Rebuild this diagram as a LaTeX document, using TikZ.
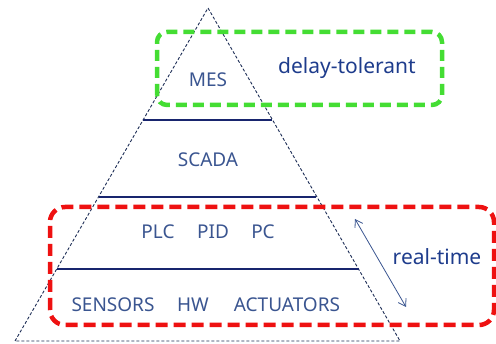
\documentclass[tikz,border=0pt]{standalone}
\usepackage{fontspec}
\setmainfont{Noto Sans}
\usetikzlibrary{arrows.meta}
\definecolor{layertxt}{HTML}{3A5590}
\definecolor{labeltxt}{HTML}{1E3C8C}
\definecolor{navy}{HTML}{1C2C55}
\definecolor{gbox}{HTML}{44DD33}
\definecolor{rbox}{HTML}{EE1111}
\tikzset{
  layertext/.style={text=layertxt, font=\fontsize{19}{22}\selectfont, inner sep=0pt},
  bigtext/.style={text=labeltxt, font=\fontsize{21}{24}\selectfont, inner sep=0pt},
  pyr/.style={draw=navy, line width=0.9pt, dash pattern=on 3pt off 2pt},
  layerline/.style={draw=navy!85!blue, line width=1.1pt},
  zonegreen/.style={draw=gbox, line width=4.5pt, dash pattern=on 11pt off 6pt, rounded corners=10pt},
  zonered/.style={draw=rbox, line width=4.5pt, dash pattern=on 12pt off 6pt, rounded corners=15pt},
  rtarrow/.style={draw=layertxt, line width=0.8pt, {Straight Barb[length=7pt,width=9pt]}-{Straight Barb[length=7pt,width=9pt]}}
}
\begin{document}
\begin{tikzpicture}[x=1pt,y=1pt]
\useasboundingbox (0,0) rectangle (496,344);
% pyramid
\coordinate (apex) at (208,336);
\coordinate (bl) at (15,3);
\coordinate (br) at (400,3);
\draw[pyr] (bl) -- (apex) -- (br) -- cycle;
% layer lines
\coordinate (l1a) at (143,224); \coordinate (l1b) at (272,224);
\coordinate (l2a) at (99,147);  \coordinate (l2b) at (316,147);
\coordinate (l3a) at (57,75);   \coordinate (l3b) at (359,75);
\draw[layerline] (l1a) -- (l1b);
\draw[layerline] (l2a) -- (l2b);
\draw[layerline] (l3a) -- (l3b);
% zones
\coordinate (g1) at (157,239); \coordinate (g2) at (442,312);
\draw[zonegreen] (g1) rectangle (g2);
\coordinate (r1) at (50,19); \coordinate (r2) at (494,137);
\draw[zonered] (r1) rectangle (r2);
% texts
\node[layertext] (mes) at (208,264) {MES};
\node[layertext] (scada) at (208,184) {SCADA};
\node[layertext] (plc) at (158,112) {PLC};
\node[layertext] (pid) at (213,112) {PID};
\node[layertext] (pc) at (263,112) {PC};
\node[layertext] (sensors) at (113,39) {SENSORS};
\node[layertext] (hw) at (193,39) {HW};
\node[layertext] (act) at (287,39) {ACTUATORS};
\node[bigtext] (delay) at (347,276) {delay-tolerant};
\node[bigtext] (rt) at (437,87) {real-time};
% arrow
\coordinate (a1) at (355,125);
\coordinate (a2) at (406,37);
\draw[rtarrow] (a1) -- (a2);
\end{tikzpicture}
\end{document}
